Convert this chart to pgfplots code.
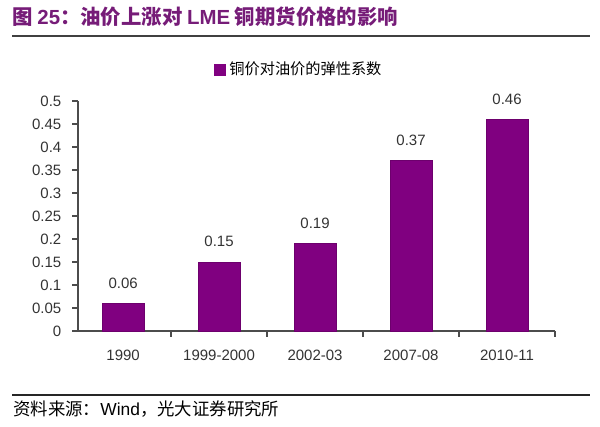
\documentclass[border=0pt]{standalone}
\usepackage{pgfplots}
\pgfplotsset{compat=1.18}
\usepackage{fontspec}
\setmainfont{Liberation Sans}
\newfontfamily\cjk{Noto Sans CJK SC}
\definecolor{barpurple}{RGB}{128,0,128}
\definecolor{titlepurple}{RGB}{118,28,120}
\begin{document}
\begin{tikzpicture}
\begin{scope}[x=0.5pt,y=-0.5pt]
\path[use as bounding box] (0,0) rectangle (600,427);
\node[anchor=west,text=titlepurple,font=\cjk\bfseries\fontsize{10.2}{12}\selectfont,inner sep=0] at (12,17) {图 {\fontspec{Liberation Sans}\bfseries 25}：油价上涨对 {\fontspec{Liberation Sans}\bfseries LME} 铜期货价格的影响};
\draw[line width=1.2pt,black!75] (12,36) -- (590,36);
\draw[line width=0.8pt,black!85] (12,395) -- (590,395);
\node[anchor=west,inner sep=0,font=\cjk\fontsize{8.7}{10}\selectfont] at (13,409) {资料来源：{\fontspec{Liberation Sans}Wind}，光大证券研究所};
\end{scope}
\begin{axis}[
  at={(39pt,-165.5pt)}, anchor=south west,
  scale only axis, width=238.5pt, height=115pt,
  ymin=0, ymax=0.5, xmin=-0.47, xmax=4.5,
  ybar, bar width=21pt,
  axis x line*=bottom, axis y line*=left,
  axis line style={black!70, line width=0.6pt},
  xtick={0.5,1.5,2.5,3.5,4.5},
  xticklabels={1990,1999-2000,2002-03,2007-08,2010-11},
  xticklabel style={xshift=-24pt, yshift=-3pt},
  ytick={0,0.05,0.1,0.15,0.2,0.25,0.3,0.35,0.4,0.45,0.5},
  yticklabels={0,0.05,0.1,0.15,0.2,0.25,0.3,0.35,0.4,0.45,0.5},
  tick style={black!70, line width=0.6pt},
  tick align=outside, major tick length=2.8pt,
  ticklabel style={font=\fontsize{7.5}{9}\selectfont, text=black!80},
  yticklabel style={xshift=-2pt},
  /pgf/number format/assume math mode=true,
  nodes near coords,
  every node near coord/.append style={font=\fontsize{7.5}{9}\selectfont, text=black!80, yshift=4pt},
  nodes near coords style={/pgf/number format/.cd, fixed, precision=2, assume math mode=true},
  legend style={at={(0.465,1.135)}, anchor=center, draw=none, fill=none, font=\cjk\fontsize{7.6}{9}\selectfont, inner sep=0pt},
  legend image code/.code={\fill[barpurple] (0pt,-2.6pt) rectangle (5.2pt,2.6pt);},
  clip=false,
]
\addplot[fill=barpurple, draw=barpurple!85!black, line width=0.4pt] coordinates {(0,0.06) (1,0.15) (2,0.19) (3,0.37) (4,0.46)};
\addlegendentry{铜价对油价的弹性系数}
\end{axis}
\end{tikzpicture}
\end{document}
